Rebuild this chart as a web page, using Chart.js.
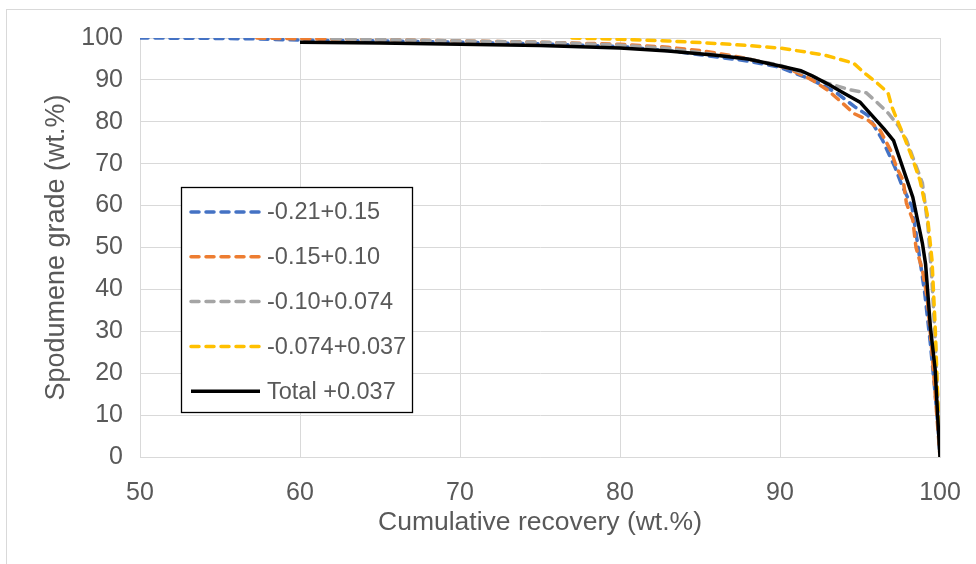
<!DOCTYPE html>
<html lang="en">
<head>
  <meta charset="UTF-8">
  <title>Spodumene grade vs cumulative recovery</title>
  <script src="https://cdn.jsdelivr.net/npm/chart.js"></script>
  <style>
    html, body {
      margin: 0;
      padding: 0;
      background: #fff;
    }
    .wrap {
      width: 976px;
      height: 564px;
    }
  </style>
</head>
<body>
  <div class="wrap">
    <canvas id="gradeChart" width="976" height="564"></canvas>
  </div>

  <script>
    // -0.21+0.15
    const blueRec = [50, 55, 57, 60, 65, 70, 75, 80, 83, 85, 88, 90, 92, 93.5, 94.7, 95.5, 96.4, 97.2, 97.6, 98.25, 98.6, 99.05, 99.4, 99.7, 99.9, 100];
    const blueGrade = [100, 99.9, 99.8, 99.5, 99.3, 99, 98.6, 98, 97, 96, 94.5, 93, 90, 87, 83.5, 81.5, 75.7, 69, 65, 59.7, 51, 39, 27, 15, 6, 0];

    // -0.15+0.10
    const orangeRec = [57.3, 60, 65, 70, 75, 80, 83, 85, 87, 89, 90.5, 92, 93, 93.9, 94.6, 95.5, 96.25, 96.9, 97.3, 97.7, 97.9, 98.3, 98.5, 98.9, 99.2, 99.5, 99.8, 100];
    const orangeGrade = [100, 99.8, 99.6, 99.3, 99, 98.5, 97.8, 97, 95.8, 94.2, 92.8, 90, 87.5, 84.5, 82, 80.4, 78, 73.3, 69, 66, 60.6, 56.6, 50, 44.6, 38, 25, 10, 0];

    // -0.10+0.074
    const grayRec = [62, 65, 70, 75, 80, 83, 86, 88, 90, 92, 92.9, 94.4, 95.4, 96.1, 96.75, 97.4, 97.9, 98.4, 98.9, 99.25, 99.5, 99.7, 99.85, 100];
    const grayGrade = [99.8, 99.6, 99.3, 99, 98.3, 97.5, 96, 95, 93.5, 91, 89.3, 87.6, 86.9, 84.5, 82.1, 79, 75.7, 70.5, 65.4, 55, 42, 28, 14, 0];

    // -0.074+0.037
    const yellowRec = [77, 80, 83, 86, 88, 90, 92.7, 94.6, 95.2, 96.06, 96.75, 97, 97.4, 97.8, 98.3, 98.75, 99.2, 99.5, 99.7, 99.85, 100];
    const yellowGrade = [100, 99.7, 99.3, 98.7, 98.2, 97.6, 96, 94, 91.9, 89.3, 86.9, 83.5, 79.7, 76, 71, 66, 58, 47, 31, 15, 2];

    // Total +0.037
    const totalRec = [60, 65, 70, 75, 80, 83, 86, 88, 90, 91.3, 92, 93, 94, 95, 95.8, 96.5, 97.1, 97.5, 97.9, 98.3, 98.6, 98.9, 99.1, 99.4, 99.7, 99.85, 100];
    const totalGrade = [99, 98.8, 98.5, 98.2, 97.6, 96.9, 95.9, 95, 93.3, 92.2, 91, 89, 86.8, 84.7, 81.3, 78.3, 75.5, 71, 66.5, 62, 56.5, 51, 46, 31, 20.8, 10, 0];

    const seriesNames = ["-0.21+0.15", "-0.15+0.10", "-0.10+0.074", "-0.074+0.037", "Total +0.037"];
    const xTicks = [50, 60, 70, 80, 90, 100];
    const yTicks = [0, 10, 20, 30, 40, 50, 60, 70, 80, 90, 100];

    const textGrey = "#595959";
    const gridGrey = "#d9d9d9";
    const fontFam = "'Liberation Sans', Arial, sans-serif";

    function toPoints(xs, ys) {
      return xs.map((x, i) => ({ x: x, y: ys[i] }));
    }

    function dashed(label, xs, ys, color, order) {
      return {
        label: label,
        data: toPoints(xs, ys),
        borderColor: color,
        backgroundColor: color,
        borderWidth: 3.5,
        borderDash: [8, 7],
        borderCapStyle: "round",
        pointRadius: 0,
        showLine: true,
        tension: 0,
        order: order,
      };
    }

    const datasets = [
      dashed(seriesNames[0], blueRec, blueGrade, "#4472C4", 4),
      dashed(seriesNames[1], orangeRec, orangeGrade, "#ED7D31", 3),
      dashed(seriesNames[2], grayRec, grayGrade, "#A5A5A5", 2),
      dashed(seriesNames[3], yellowRec, yellowGrade, "#FFC000", 1),
      {
        label: seriesNames[4],
        data: toPoints(totalRec, totalGrade),
        borderColor: "#000000",
        backgroundColor: "#000000",
        borderWidth: 3.5,
        pointRadius: 0,
        showLine: true,
        tension: 0,
        order: 0,
      },
    ];

    // outer chart frame (light grey, like the spreadsheet chart border)
    const framePlugin = {
      id: "frame",
      beforeDraw(chart) {
        const c = chart.ctx;
        c.save();
        c.strokeStyle = gridGrey;
        c.lineWidth = 1;
        c.strokeRect(6.5, 9.5, 990, 580);
        c.restore();
      },
    };

    // boxed legend sitting inside the plot
    const boxLegend = {
      id: "boxLegend",
      afterDatasetsDraw(chart) {
        const c = chart.ctx;
        const left = 181.5, top = 187.5, w = 231, h = 225;
        c.save();
        c.fillStyle = "#fff";
        c.fillRect(left, top, w, h);
        c.strokeStyle = "#000";
        c.lineWidth = 1.3;
        c.strokeRect(left, top, w, h);
        c.font = "23.5px " + fontFam;
        c.textBaseline = "middle";
        chart.data.datasets.forEach((ds, i) => {
          const y = 212 + i * 44.8;
          c.strokeStyle = ds.borderColor;
          c.lineWidth = 3.5;
          c.lineCap = ds.borderDash ? "round" : "butt";
          c.setLineDash(ds.borderDash || []);
          c.beginPath();
          c.moveTo(191, y);
          c.lineTo(260, y);
          c.stroke();
          c.setLineDash([]);
          c.fillStyle = textGrey;
          c.fillText(ds.label, 267, y + 1);
        });
        c.restore();
      },
    };

    const ctx = document.getElementById("gradeChart").getContext("2d");
    const gradeChart = new Chart(ctx, {
      type: "scatter",
      data: { datasets: datasets },
      plugins: [framePlugin, boxLegend],
      options: {
        responsive: false,
        animation: false,
        layout: {
          padding: { left: 0, top: 38, right: 36, bottom: 0 },
        },
        plugins: {
          legend: { display: false },
          tooltip: { enabled: false },
        },
        scales: {
          x: {
            type: "linear",
            min: 50,
            max: 100,
            afterFit(scale) {
              scale.height = 107;
              scale.paddingLeft = 0;
              scale.paddingRight = 0;
            },
            afterBuildTicks(scale) {
              scale.ticks = xTicks.map((v) => ({ value: v }));
            },
            grid: {
              color: gridGrey,
              drawTicks: false,
            },
            border: { color: gridGrey },
            ticks: {
              color: textGrey,
              padding: 21,
              font: { family: fontFam, size: 25 },
            },
            title: {
              display: true,
              text: "Cumulative recovery (wt.%)",
              color: textGrey,
              font: { family: fontFam, size: 26.5 },
              padding: { top: 0, bottom: 25 },
            },
          },
          y: {
            type: "linear",
            min: 0,
            max: 100,
            afterFit(scale) {
              scale.width = 140;
              scale.paddingTop = 0;
              scale.paddingBottom = 0;
            },
            afterBuildTicks(scale) {
              scale.ticks = yTicks.map((v) => ({ value: v }));
            },
            grid: {
              color: gridGrey,
              drawTicks: false,
            },
            border: { color: gridGrey },
            ticks: {
              color: textGrey,
              padding: 17,
              font: { family: fontFam, size: 25 },
            },
            title: {
              display: true,
              text: "Spodumene grade (wt.%)",
              color: textGrey,
              font: { family: fontFam, size: 27 },
              padding: { top: 40, bottom: 0 },
            },
          },
        },
      },
    });
  </script>
</body>
</html>
